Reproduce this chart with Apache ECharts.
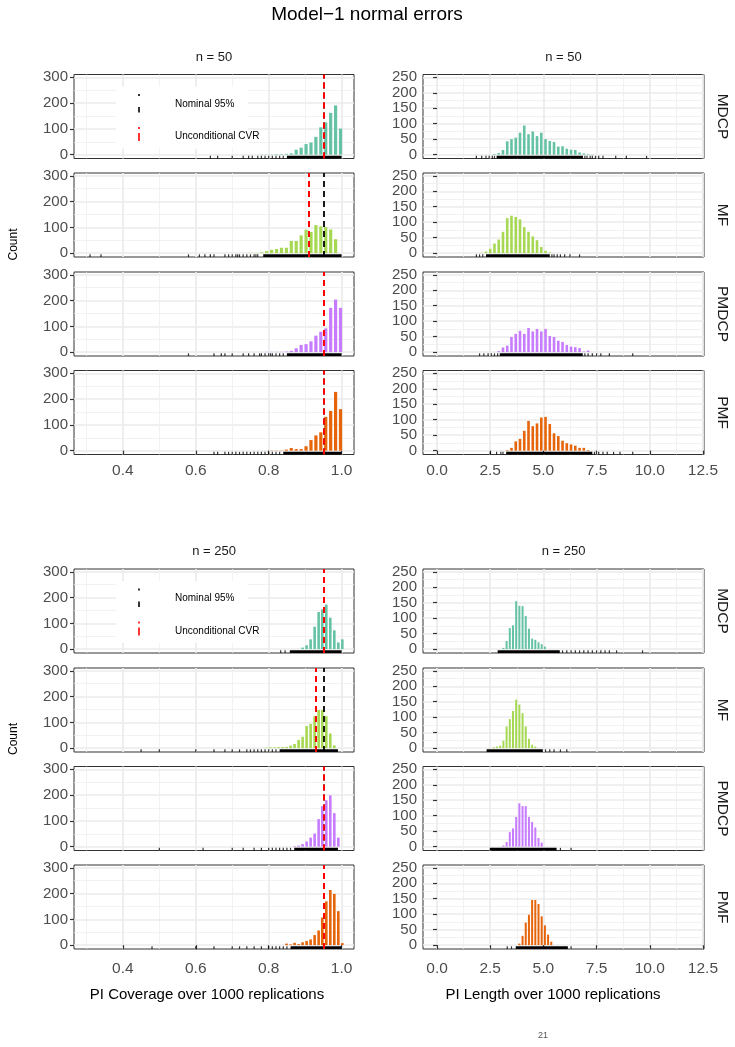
<!DOCTYPE html>
<html>
<head>
<meta charset="utf-8">
<script src="https://cdn.jsdelivr.net/npm/echarts@6/dist/echarts.min.js"></script>
<style>
html, body { margin: 0; padding: 0; background: #fff; }
#chart { width: 735px; height: 1047px; }
</style>
</head>
<body>
<div id="chart"></div>
<script>
// ---- data ----
const sections = ["n = 50", "n = 250"];
const methods = ["MDCP", "MF", "PMDCP", "PMF"];
const methodColors = ["#66C2A5", "#A6D854", "#C77CFF", "#E6650A"];

const covTicks = [0.4, 0.6, 0.8, 1.0];
const covMinor = [0.3, 0.5, 0.7, 0.9];
const covCountTicks = [0, 100, 200, 300];
const covCountMinor = [50, 150, 250];
const lenTicks = [0, 2.5, 5, 7.5, 10, 12.5];
const lenMinor = [1.25, 3.75, 6.25, 8.75, 11.25];
const lenCountTicks = [0, 50, 100, 150, 200, 250];
const lenCountMinor = [25, 75, 125, 175, 225];

const nominal = 0.95;
const uncond50 = [0.947, 0.908, 0.951, 0.951];
const uncond250 = [0.949, 0.926, 0.950, 0.949];

// n = 50, coverage histograms
const cov50Bins = [0.754, 0.7675, 0.781, 0.7945, 0.808, 0.8215, 0.835, 0.8485, 0.862, 0.8755, 0.889, 0.9025, 0.916, 0.9295, 0.943, 0.9565, 0.970, 0.9835, 0.997];
const cov50MDCP  = [0, 0, 1, 1, 1, 2, 2, 3, 5, 19, 27, 41, 47, 69, 106, 125, 162, 191, 101];
const cov50MF    = [1, 1, 3, 8, 13, 16, 21, 21, 47, 47, 69, 91, 82, 109, 104, 102, 92, 54, 0];
const cov50PMDCP = [0, 0, 0, 1, 1, 1, 1, 2, 5, 15, 28, 31, 42, 64, 79, 92, 172, 204, 172];
const cov50PMF   = [0, 0, 0, 0, 1, 1, 1, 4, 10, 6, 6, 17, 41, 59, 71, 131, 154, 228, 161];

// n = 50, length histograms
const len50Bins = [1.9, 2.1, 2.3, 2.5, 2.7, 2.9, 3.1, 3.3, 3.5, 3.7, 3.9, 4.1, 4.3, 4.5, 4.7, 4.9, 5.1, 5.3, 5.5, 5.7, 5.9, 6.1, 6.3, 6.5, 6.7, 6.9, 7.1, 7.3];
const len50MDCP  = [0, 0, 0, 0, 2, 5, 15, 43, 50, 55, 71, 94, 66, 75, 60, 71, 50, 44, 41, 26, 27, 19, 16, 15, 7, 4, 2, 1];
const len50MF    = [0, 1, 5, 14, 31, 44, 69, 113, 121, 117, 109, 84, 69, 54, 42, 20, 8, 2, 0, 0, 0, 0, 0, 0, 0, 0, 0, 0];
const len50PMDCP = [0, 0, 0, 0, 0, 3, 15, 21, 49, 59, 69, 59, 78, 67, 75, 67, 75, 52, 49, 37, 33, 23, 18, 16, 13, 2, 5, 0];
const len50PMF   = [0, 0, 0, 0, 0, 0, 0, 2, 9, 30, 38, 64, 96, 79, 88, 107, 109, 86, 56, 47, 32, 24, 20, 16, 9, 9, 2, 0];

// n = 250, coverage histograms
const cov250Bins = [0.794, 0.805, 0.816, 0.827, 0.838, 0.849, 0.860, 0.871, 0.882, 0.893, 0.904, 0.915, 0.926, 0.937, 0.947, 0.958, 0.969, 0.980, 0.991, 1.002];
const cov250MDCP  = [0, 0, 0, 0, 0, 0, 0, 0, 0, 6, 15, 38, 87, 144, 154, 173, 122, 73, 26, 38];
const cov250MF    = [2, 3, 3, 4, 4, 5, 10, 16, 32, 44, 86, 94, 124, 148, 148, 124, 57, 11, 0, 0];
const cov250PMDCP = [0, 0, 0, 0, 0, 0, 0, 2, 4, 10, 20, 35, 51, 107, 157, 180, 199, 130, 35, 0];
const cov250PMF   = [0, 0, 0, 0, 0, 6, 3, 9, 4, 11, 16, 22, 39, 57, 107, 170, 214, 199, 132, 8];

// n = 250, length histograms
const len250Bins = [2.67, 2.82, 2.97, 3.12, 3.27, 3.42, 3.57, 3.72, 3.87, 4.02, 4.17, 4.32, 4.47, 4.62, 4.77, 4.92, 5.07, 5.22, 5.37, 5.52];
const len250MDCP  = [0, 0, 0, 4, 26, 68, 77, 155, 140, 139, 107, 66, 34, 30, 22, 16, 8, 0, 0, 0];
const len250MF    = [3, 5, 8, 24, 70, 94, 120, 157, 141, 113, 70, 30, 11, 5, 0, 0, 0, 0, 0, 0];
const len250PMDCP = [0, 0, 0, 4, 15, 47, 59, 96, 140, 131, 131, 96, 80, 62, 28, 13, 0, 0, 0, 0];
const len250PMF   = [0, 0, 0, 0, 0, 0, 0, 0, 5, 30, 73, 98, 146, 146, 133, 93, 64, 34, 11, 0];

// rug: dense stretch + isolated values, per method
const cov50RugDense = [[0.85, 1.0], [0.785, 1.0], [0.85, 1.0], [0.84, 1.0]];
const cov50RugSparse = [
  [0.64, 0.66, 0.70, 0.73, 0.745, 0.755, 0.77, 0.78, 0.79, 0.80, 0.81, 0.82, 0.83, 0.84],
  [0.31, 0.34, 0.58, 0.61, 0.625, 0.64, 0.65, 0.68, 0.69, 0.70, 0.71, 0.715, 0.72, 0.73, 0.74, 0.75, 0.76, 0.765, 0.77],
  [0.58, 0.65, 0.67, 0.68, 0.70, 0.73, 0.745, 0.76, 0.775, 0.78, 0.79, 0.80, 0.805, 0.81, 0.82, 0.83, 0.84],
  [0.65, 0.66, 0.68, 0.69, 0.70, 0.71, 0.72, 0.73, 0.74, 0.75, 0.76, 0.77, 0.78, 0.79, 0.80, 0.81, 0.82, 0.83]
];
const len50RugDense = [[2.8, 6.86], [2.3, 5.3], [2.95, 6.85], [3.25, 7.3]];
const len50RugSparse = [
  [1.85, 2.1, 2.3, 2.45, 2.6, 2.7, 6.95, 7.05, 7.2, 7.3, 7.45, 7.6, 7.8, 8.4, 8.9, 9.85],
  [1.85, 2.0, 2.15, 5.4, 5.5, 5.65, 5.8, 6.0, 6.25, 6.7],
  [2.0, 2.2, 2.4, 2.55, 2.7, 2.85, 6.95, 7.1, 7.3, 7.5, 7.7, 8.1, 9.2],
  [2.5, 2.8, 3.0, 3.1, 7.4, 7.6, 7.8, 8.0, 8.3, 8.6, 9.2]
];
const cov250RugDense = [[0.858, 1.0], [0.83, 0.99], [0.87, 0.99], [0.86, 1.0]];
const cov250RugSparse = [
  [0.833, 0.845],
  [0.45, 0.50, 0.60, 0.65, 0.68, 0.70, 0.72, 0.74, 0.75, 0.76, 0.77, 0.78, 0.79, 0.80, 0.81, 0.82],
  [0.50, 0.62, 0.70, 0.73, 0.76, 0.78, 0.80, 0.81, 0.82, 0.83, 0.84, 0.85, 0.86],
  [0.48, 0.60, 0.65, 0.70, 0.72, 0.74, 0.76, 0.78, 0.80, 0.81, 0.82, 0.83, 0.84, 0.85]
];
const len250RugDense = [[2.85, 5.77], [2.33, 4.97], [2.48, 5.62], [3.7, 6.15]];
const len250RugSparse = [
  [5.9, 6.1, 6.3, 6.5, 6.7, 6.9, 7.1, 7.3, 7.5, 7.7, 7.9, 8.1, 8.44, 9.66],
  [5.1, 5.3, 5.5, 5.8, 6.1],
  [5.8, 6.3],
  [3.3, 3.5, 6.3]
];

// ---- layout ----
const FONT = '"Liberation Sans", Arial, Helvetica, sans-serif';
const colLeft = [74, 423];
const colWidth = [280, 281];
const sectionTops = [[74.5, 173, 272, 370.5], [569, 668, 766.5, 865]];
const xLabelMargin = [8, 12];
const panelH = 84;
const covRange = [0.266, 1.034];
const lenRange = [-0.66, 12.55];
const covCountRange = [-15, 311];
const lenCountRange = [-12.5, 259];

const panelData = [
  { cov: [cov50Bins, [cov50MDCP, cov50MF, cov50PMDCP, cov50PMF]], len: [len50Bins, [len50MDCP, len50MF, len50PMDCP, len50PMF]],
    covRug: [cov50RugDense, cov50RugSparse], lenRug: [len50RugDense, len50RugSparse], uncond: uncond50, bw: [3.2, 2.6] },
  { cov: [cov250Bins, [cov250MDCP, cov250MF, cov250PMDCP, cov250PMF]], len: [len250Bins, [len250MDCP, len250MF, len250PMDCP, len250PMF]],
    covRug: [cov250RugDense, cov250RugSparse], lenRug: [len250RugDense, len250RugSparse], uncond: uncond250, bw: [2.6, 2.0] }
];

const grids = [], xAxes = [], yAxes = [], series = [], graphics = [];

function addText(txt, x, y, size, color, rot, align) {
  graphics.push({
    type: 'text', x: x, y: y, rotation: rot || 0, silent: true, z: 100,
    style: { text: txt, fill: color, fontSize: size, fontFamily: FONT, align: align || 'center', verticalAlign: 'middle' }
  });
}

function addPanel(s, c, r) {
  const g = grids.length;
  const isCov = c === 0;
  const pd = panelData[s];
  const xr = isCov ? covRange : lenRange;
  const yr = isCov ? covCountRange : lenCountRange;
  const xt = isCov ? covTicks : lenTicks;
  const xm = isCov ? covMinor : lenMinor;
  const yt = isCov ? covCountTicks : lenCountTicks;
  const ym = isCov ? covCountMinor : lenCountMinor;
  const bottomRow = r === 3;

  grids.push({
    left: colLeft[c], width: colWidth[c], top: sectionTops[s][r], height: panelH,
    show: true, borderColor: '#333333', borderWidth: 1, backgroundColor: '#fff',
    containLabel: false, outerBoundsMode: 'none'
  });

  xAxes.push({
    type: 'value', gridIndex: g, min: xr[0], max: xr[1],
    axisLine: { show: false },
    axisTick: { show: bottomRow, customValues: xt, length: 4, lineStyle: { color: '#333333', width: 1.2 } },
    axisLabel: { show: bottomRow, customValues: xt, formatter: v => v.toFixed(1), color: '#4D4D4D',
      fontSize: 15.5, fontFamily: FONT, margin: xLabelMargin[s],
      showMinLabel: true, showMaxLabel: true, hideOverlap: false },
    splitLine: { show: true, lineStyle: { color: '#EBEBEB', width: 1.7 } }
  });
  xAxes.push({
    type: 'value', gridIndex: g, min: xr[0], max: xr[1],
    axisLine: { show: false }, axisTick: { show: false, customValues: xm },
    axisLabel: { show: false, customValues: xm },
    splitLine: { show: true, lineStyle: { color: '#EFEFEF', width: 0.8 } }
  });
  yAxes.push({
    type: 'value', gridIndex: g, min: yr[0], max: yr[1],
    axisLine: { show: false },
    axisTick: { show: true, customValues: yt, length: 4, lineStyle: { color: '#333333', width: 1.2 } },
    axisLabel: { show: true, customValues: yt, color: '#4D4D4D', fontSize: 15, fontFamily: FONT, margin: 6,
      showMinLabel: true, showMaxLabel: true, hideOverlap: false },
    splitLine: { show: true, lineStyle: { color: '#EBEBEB', width: 1.7 } }
  });
  yAxes.push({
    type: 'value', gridIndex: g, min: yr[0], max: yr[1],
    axisLine: { show: false }, axisTick: { show: false, customValues: ym },
    axisLabel: { show: false, customValues: ym },
    splitLine: { show: true, lineStyle: { color: '#EFEFEF', width: 0.8 } }
  });

  const hist = isCov ? pd.cov : pd.len;
  const bins = hist[0];
  const counts = hist[1][r];
  const bar = {
    type: 'bar', xAxisIndex: 2 * g, yAxisIndex: 2 * g, silent: true, animation: false,
    data: bins.map((b, i) => [b, counts[i]]),
    barWidth: pd.bw[c], itemStyle: { color: methodColors[r] }, z: 2
  };
  if (isCov) {
    bar.markLine = {
      silent: true, symbol: ['none', 'none'], label: { show: false }, animation: false, z: 6,
      data: [
        { xAxis: nominal, lineStyle: { color: '#000000', type: [6, 4], width: 1.8 } },
        { xAxis: pd.uncond[r], lineStyle: { color: '#FF0000', type: [6, 4], width: 2 } }
      ]
    };
  }
  series.push(bar);

  const rug = isCov ? pd.covRug : pd.lenRug;
  const rugY = yr[0] + 0.016 * (yr[1] - yr[0]);
  series.push({
    type: 'line', xAxisIndex: 2 * g, yAxisIndex: 2 * g, silent: true, animation: false,
    data: rug[0][r].map(v => [v, rugY]), symbol: 'none',
    lineStyle: { color: '#000000', width: 2.6 }, z: 3
  });
  series.push({
    type: 'scatter', xAxisIndex: 2 * g, yAxisIndex: 2 * g, silent: true, animation: false,
    data: rug[1][r].map(v => [v, rugY]), symbol: 'rect', symbolSize: [1.2, 2.6],
    itemStyle: { color: '#000000' }, z: 3
  });
}

for (let s = 0; s < 2; s++) {
  for (let c = 0; c < 2; c++) {
    for (let r = 0; r < 4; r++) addPanel(s, c, r);
  }
  const st = sectionTops[s];
  // strip labels
  addText(sections[s], colLeft[0] + colWidth[0] / 2, st[0] - 17.5, 13, '#1A1A1A');
  addText(sections[s], colLeft[1] + colWidth[1] / 2, st[0] - 17.5, 13, '#1A1A1A');
  for (let r = 0; r < 4; r++) {
    addText(methods[r], 722, st[r] + panelH / 2, 15.5, '#1A1A1A', -Math.PI / 2);
  }
  addText('Count', 14, (st[0] + st[3] + panelH) / 2 - 20, 12, '#000000', Math.PI / 2);

  // legend inside the first coverage panel
  const lt = st[0];
  graphics.push({ type: 'rect', silent: true, z: 99, shape: { x: 116, y: lt + 12, width: 132, height: 62 }, style: { fill: '#ffffff' } });
  graphics.push({ type: 'line', silent: true, z: 100, shape: { x1: 139, y1: lt + 19.5, x2: 139, y2: lt + 21.5 }, style: { stroke: '#000000', lineWidth: 1.6 } });
  graphics.push({ type: 'line', silent: true, z: 100, shape: { x1: 139, y1: lt + 32.5, x2: 139, y2: lt + 38 }, style: { stroke: '#000000', lineWidth: 1.6 } });
  graphics.push({ type: 'line', silent: true, z: 100, shape: { x1: 139, y1: lt + 52.5, x2: 139, y2: lt + 54.5 }, style: { stroke: '#FF0000', lineWidth: 1.6 } });
  graphics.push({ type: 'line', silent: true, z: 100, shape: { x1: 139, y1: lt + 58.5, x2: 139, y2: lt + 66.5 }, style: { stroke: '#FF0000', lineWidth: 1.6 } });
  addText('Nominal 95%', 175, lt + 29.5, 10, '#000000', 0, 'left');
  addText('Unconditional CVR', 175, lt + 62, 10, '#000000', 0, 'left');
}

addText('Model\u22121 normal errors', 367, 15, 19, '#000000');
addText('PI Coverage over 1000 replications', 207, 995, 15, '#000000');
addText('PI Length over 1000 replications', 553, 995, 15, '#000000');
addText('21', 543, 1036, 9, '#555555');

const chart = echarts.init(document.getElementById('chart'));
chart.setOption({
  animation: false,
  backgroundColor: '#ffffff',
  grid: grids,
  xAxis: xAxes,
  yAxis: yAxes,
  series: series,
  graphic: graphics
});
</script>
</body>
</html>
